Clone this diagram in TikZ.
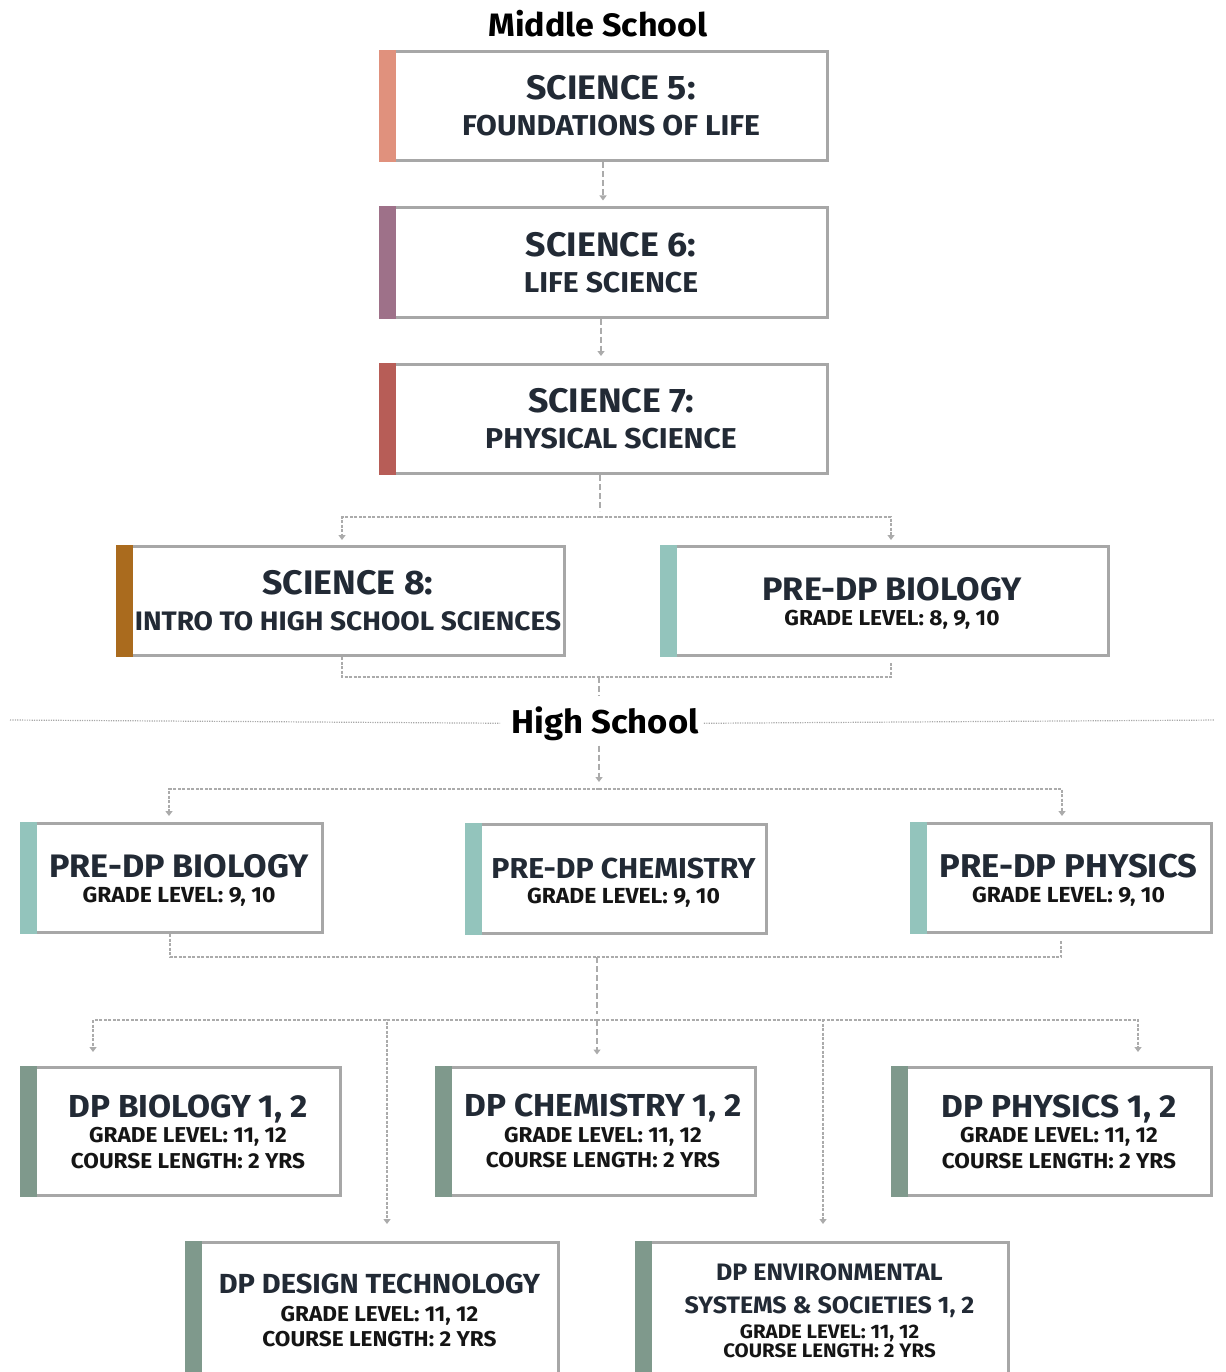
\documentclass[tikz,border=0pt]{standalone}
\usepackage{fontspec}
\setmainfont{Fira Sans}[FakeStretch=1.05]
\usetikzlibrary{arrows.meta,positioning}

\definecolor{boxgray}{HTML}{A7A7A7}
\definecolor{linegray}{HTML}{ABABAB}
\definecolor{rulegray}{HTML}{A8A8A8}
\definecolor{ink}{HTML}{222A35}
\definecolor{infoink}{HTML}{151515}
\definecolor{salmon}{HTML}{E0917D}
\definecolor{mauve}{HTML}{9E7189}
\definecolor{brick}{HTML}{B75D57}
\definecolor{ochre}{HTML}{AA6B1E}
\definecolor{teal}{HTML}{93C4BC}
\definecolor{sage}{HTML}{7F998C}

\setlength{\lineskiplimit}{-50pt}
\newcommand{\ctitle}[2][34]{{\fontsize{#1}{#1}\selectfont #2}}
\newcommand{\cinfo}[2][21.5]{{\color{infoink}\fontsize{#1}{#1}\selectfont #2}}
\newcommand{\lift}{\rule{0pt}{28pt}}

\begin{document}
\begin{tikzpicture}[x=1pt,y=-1pt,>={Triangle[width=7pt,length=5pt]},shorten >=6pt,node distance=156.5pt,
  course/.style={draw=boxgray, line width=3pt, fill=white, align=center, text=ink, inner sep=0pt},
  ms/.style={course, minimum width=433pt, minimum height=109pt,
    font={\bfseries\fontsize{20}{36}\selectfont}},
  pre/.style={course, minimum width=286pt, minimum height=109pt,
    font={\bfseries\fontsize{20}{25}\selectfont}},
  dp/.style={course, minimum width=305pt, minimum height=128pt,
    font={\bfseries\fontsize{20}{25.5}\selectfont}},
  dpwide/.style={dp, minimum width=358pt, minimum height=136pt},
  school/.style={font={\bfseries\fontsize{33}{33}\selectfont}, text=black, inner sep=5pt, anchor=base},
  flow/.style={draw=linegray, line width=1.4pt, dash pattern=on 6pt off 3pt},
  bus/.style={draw=linegray, line width=1.4pt, dash pattern=on 3pt off 1.5pt},
  rule/.style={draw=rulegray, line width=1.2pt, dash pattern=on 1.2pt off 1.2pt}]

  \useasboundingbox (0,0) rectangle (1225,1372);
  \clip (0,0) rectangle (1225,1372);

  % middle school
  \node[school, font={\bfseries\fontsize{32.4}{32.4}\selectfont}] (mstitle) at (598,36.7) {Middle School};
  \node[ms] (sci5) at (611,106) {\ctitle{SCIENCE 5:}\\\ctitle[28.7]{FOUNDATIONS OF LIFE}};
  \node[ms] (sci6) [below of=sci5] {\ctitle{SCIENCE 6:}\\\ctitle[28.7]{LIFE SCIENCE}};
  \node[ms] (sci7) [below of=sci6] {\ctitle{SCIENCE 7:}\\\ctitle[28.7]{PHYSICAL SCIENCE}};
  \node[ms] (sci8) at (348,601) {\ctitle{SCIENCE 8:}\\\ctitle[26.7]{INTRO TO HIGH SCHOOL SCIENCES}};
  \node[ms, font={\bfseries\fontsize{20}{25}\selectfont}] (mbio) at (892,601)
    {\lift\ctitle[32.5]{PRE-DP BIOLOGY}\\\cinfo[21.6]{GRADE LEVEL: 8, 9, 10}};

  % high school
  \node[school] (hstitle) at (605,733) {High School};
  \node[pre, minimum width=287pt] (hbio) at (179,878) {\lift\ctitle[32.5]{PRE-DP BIOLOGY}\\\cinfo[21.8]{GRADE LEVEL: 9, 10}};
  \node[pre] (hchem) at (623.5,879) {\lift\ctitle[28.8]{PRE-DP CHEMISTRY}\\\cinfo[21.8]{GRADE LEVEL: 9, 10}};
  \node[pre] (hphys) at (1068.5,878) {\lift\ctitle[32.9]{PRE-DP PHYSICS}\\\cinfo[21.8]{GRADE LEVEL: 9, 10}};

  \node[dp] (dpbio) at (188,1131.5) {\ctitle[31.8]{DP BIOLOGY 1, 2}\\\cinfo{GRADE LEVEL: 11, 12}\\\cinfo{COURSE LENGTH: 2 YRS}};
  \node[dp] (dpchem) at (603,1131) {\ctitle[31.8]{DP CHEMISTRY 1, 2}\\\cinfo{GRADE LEVEL: 11, 12}\\\cinfo{COURSE LENGTH: 2 YRS}};
  \node[dp] (dpphys) at (1059,1131.5) {\ctitle[31.8]{DP PHYSICS 1, 2}\\\cinfo{GRADE LEVEL: 11, 12}\\\cinfo{COURSE LENGTH: 2 YRS}};
  \node[dpwide] (dpdes) at (379.5,1310.5) {\ctitle[27.6]{DP DESIGN TECHNOLOGY}\\[2pt]\cinfo{GRADE LEVEL: 11, 12}\\\cinfo{COURSE LENGTH: 2 YRS}};
  \node[dpwide] (dpenv) at (829.5,1310.5) {\ctitle[23.8]{DP ENVIRONMENTAL}\\[7pt]\ctitle[23.8]{SYSTEMS \& SOCIETIES 1, 2}\\\cinfo[19.5]{GRADE LEVEL: 11, 12}\\[-7pt]\cinfo[19.5]{COURSE LENGTH: 2 YRS}};

  % colour bars
  \foreach \n/\c in {sci5/salmon, sci6/mauve, sci7/brick, sci8/ochre, mbio/teal,
                     hbio/teal, hchem/teal, hphys/teal,
                     dpbio/sage, dpchem/sage, dpphys/sage, dpdes/sage, dpenv/sage}
    \fill[\c] ([xshift=-14pt]\n.north west) rectangle ([xshift=3pt]\n.south west);

  \coordinate (split1) at (600,517);
  \coordinate (join1) at (599,677);
  \coordinate (split2) at (599,789);
  \coordinate (join2) at (597,957);
  \coordinate (split3) at (597,1020);

  \draw[flow,->] ([xshift=-8pt]sci5.south) -- ([xshift=-8pt]sci6.north);
  \draw[flow,->,shorten >=7pt] ([xshift=-10pt]sci6.south) -- ([xshift=-10pt]sci7.north);
  \draw[flow] ([xshift=-11pt]sci7.south) -- (split1);
  \draw[bus,->,shorten >=5pt] (split1) -| ([xshift=-6pt]sci8.north);
  \draw[bus,->,shorten >=5pt] (split1) -| ([xshift=-1pt]mbio.north);
  \draw[bus] ([xshift=-6pt]sci8.south) |- (join1) -| ([xshift=-1pt]mbio.south);

  \draw[flow] (join1) -- (join1 |- hstitle.north);
  \draw[flow,->,shorten >=7pt] (join1 |- hstitle.south) -- (split2);
  \draw[rule] (10,720) -- (hstitle.west);
  \draw[rule] (hstitle.east) -- (1220,720);

  \draw[bus,->] (split2) -| ([xshift=-10pt]hbio.north);
  \draw[bus,->] (split2) -| ([xshift=-6.5pt]hphys.north);
  \draw[bus] ([xshift=-9pt]hbio.south) |- (join2) -| ([xshift=-7.5pt]hphys.south);
  \draw[flow] (join2) -- (split3);

  \draw[bus,->,shorten >=14pt] (split3) -| ([xshift=-95pt]dpbio.north);
  \draw[flow,->,shorten >=11pt] (split3) -- ([xshift=-6pt]dpchem.north);
  \draw[bus,->,shorten >=14pt] (split3) -| ([xshift=79pt]dpphys.north);
  \draw[bus,->,shorten >=17pt] (split3) -| ([xshift=7.5pt]dpdes.north);
  \draw[bus,->,shorten >=17pt] (split3) -| ([xshift=-6.5pt]dpenv.north);

\end{tikzpicture}
\end{document}
